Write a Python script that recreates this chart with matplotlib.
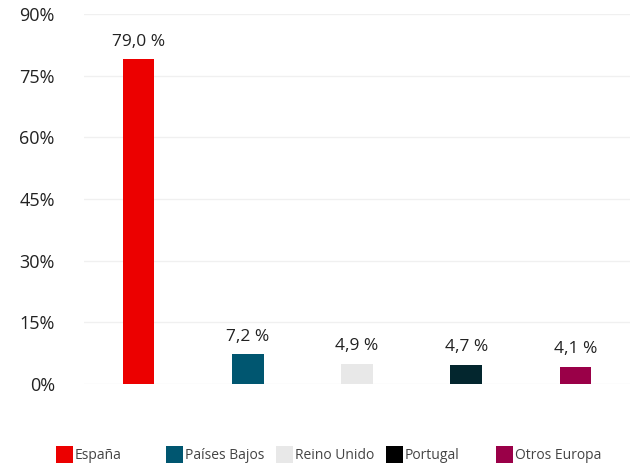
import matplotlib
matplotlib.use('Agg')
import matplotlib.pyplot as plt
from matplotlib.patches import Rectangle

categories = ['España', 'Países Bajos', 'Reino Unido', 'Portugal', 'Otros Europa']
values = [79.0, 7.2, 4.9, 4.7, 4.1]
colors = ['#ec0000', '#005670', '#e8e8e8', '#03262e', '#9a0048']
legend_colors = ['#ec0000', '#005670', '#e8e8e8', '#000000', '#9a0048']
yticks = [0, 15, 30, 45, 60, 75, 90]

plt.rcParams['font.family'] = ['Open Sans', 'DejaVu Sans']

W, H = 634, 465
fig = plt.figure(figsize=(W / 100, H / 100), dpi=100)
ax = fig.add_axes([84 / W, 81 / H, 546 / W, 370 / H])

x = list(range(len(categories)))
ax.bar(x, values, width=0.29, color=colors, zorder=3)
for xi, v in zip(x, values):
    ax.annotate(f'{v:.1f} %'.replace('.', ','), (xi, v), xytext=(0, 7),
                textcoords='offset points', ha='center', va='bottom',
                fontsize=12.5, color='#222222')

ax.set_xlim(-0.5, 4.5)
ax.set_ylim(0, 90)
ax.set_yticks(yticks)
ax.set_yticklabels([f'{t}%' for t in yticks], fontsize=13, color='#222222')
ax.set_xticks([])
ax.tick_params(axis='y', length=0, pad=21)
ax.grid(axis='y', color='#f0f0f0', linewidth=1, zorder=0)
for s in ax.spines.values():
    s.set_visible(False)

# legend, evenly spaced items along the bottom
for i, (name, c) in enumerate(zip(categories, legend_colors)):
    x0 = 56 + i * 110
    fig.patches.append(Rectangle((x0 / W, (H - 463) / H), 17 / W, 17 / H,
                                 transform=fig.transFigure, facecolor=c,
                                 edgecolor='none'))
    fig.text((x0 + 19) / W, (H - 455) / H, name, fontsize=10,
             color='#444444', ha='left', va='center')

fig.savefig('out.png', dpi=100, facecolor='white')
